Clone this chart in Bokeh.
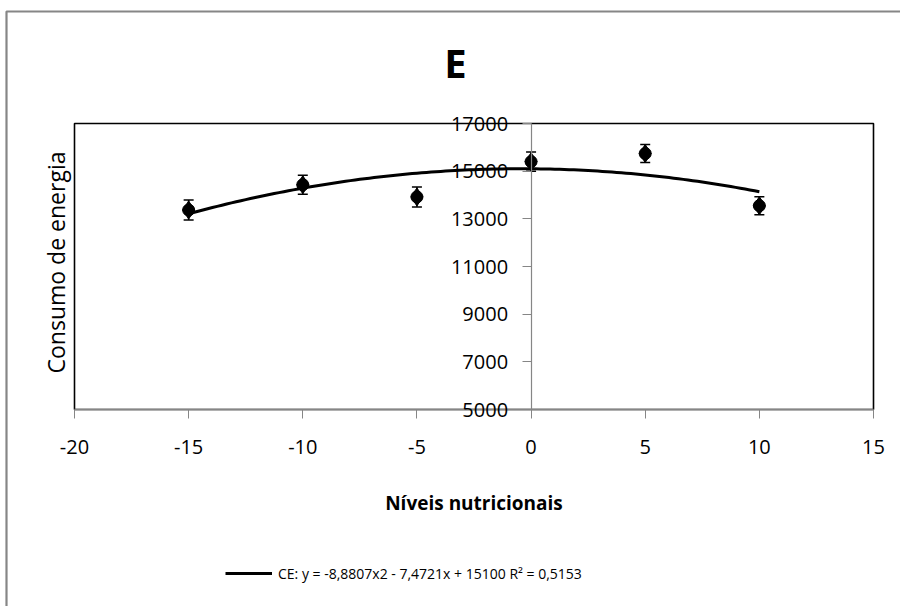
import math
import numpy as np
from bokeh.plotting import figure
from bokeh.models import (LinearAxis, FixedTicker, Range1d, Whisker, TeeHead,
                          ColumnDataSource, BoxAnnotation, Legend, LegendItem,
                          Label, PrintfTickFormatter)
from bokeh.embed import file_html
from bokeh.resources import INLINE

# ---- data ----
niveis = [-15, -10, -5, 0, 5, 10]
consumo = [13370, 14430, 13920, 15400, 15740, 13550]
erro = [420, 400, 420, 400, 380, 380]
coef = [-8.8807, -7.4721, 15100]          # CE: y = a x^2 + b x + c
x_ticks = [-20, -15, -10, -5, 0, 5, 10, 15]
y_ticks = [5000, 7000, 9000, 11000, 13000, 15000, 17000]
titulo = "E"
x_label = "Níveis nutricionais"
y_label = "Consumo de energia"
legenda = "CE: y = -8,8807x2 - 7,4721x + 15100 R² = 0,5153"

GRAY = "#868686"
FONT = "Open Sans"
W, H = 900, 606

# ---- layout: the frame covers the whole canvas;
#      the plot box (-20..15, 5000..17000) sits at these pixels ----
XMIN, XMAX, YMIN, YMAX = -20, 15, 5000, 17000
BOX_L, BOX_R, BOX_T, BOX_B = 74, 873, 123, 409
kx = (BOX_R - BOX_L) / (XMAX - XMIN)
ky = (BOX_B - BOX_T) / (YMAX - YMIN)


def px_x(px):
    return XMIN + (px - BOX_L) / kx


def px_y(py):
    return YMAX - (py - BOX_T) / ky


src = ColumnDataSource(dict(
    x=niveis, y=consumo,
    upper=[v + e for v, e in zip(consumo, erro)],
    lower=[v - e for v, e in zip(consumo, erro)],
))
xs = np.linspace(min(niveis), max(niveis), 121)
ys = np.polyval(coef, xs)

p = figure(width=W, height=H, output_backend="svg", toolbar_location=None,
           x_range=Range1d(px_x(0), px_x(W)), y_range=Range1d(px_y(H), px_y(0)),
           x_axis_location=None, y_axis_location=None,
           min_border_left=0, min_border_right=0,
           min_border_top=0, min_border_bottom=0)
p.grid.visible = False
p.outline_line_color = None
p.background_fill_color = "white"
p.border_fill_color = "white"

# outer chart-area border (only left/top edges fall inside the canvas)
p.add_layout(BoxAnnotation(left=px_x(6), right=px_x(W + 50), top=px_y(11),
                           bottom=px_y(H + 50), fill_alpha=0, line_alpha=1,
                           line_color=GRAY, line_width=2.2, level="underlay"))

# plot box
p.add_layout(BoxAnnotation(left=XMIN, right=XMAX, bottom=YMIN, top=YMAX,
                           fill_alpha=0, line_alpha=1, line_color="black",
                           line_width=1.6, level="underlay"))

# x axis (at y = 5000)
xa = LinearAxis(ticker=FixedTicker(ticks=x_ticks), fixed_location=YMIN,
                bounds=(XMIN, XMAX), formatter=PrintfTickFormatter(format="%d"))
xa.axis_line_color = GRAY
xa.axis_line_width = 1.5
xa.major_tick_line_color = GRAY
xa.major_tick_out = 9
xa.major_tick_in = 0
xa.minor_tick_line_color = None
xa.major_label_text_font = FONT
xa.major_label_text_font_size = "20px"
xa.major_label_text_color = "black"
xa.major_label_standoff = 21
xa.axis_label = x_label
xa.axis_label_text_font = FONT
xa.axis_label_text_font_size = "19px"
xa.axis_label_text_font_style = "bold"
xa.axis_label_text_color = "black"
xa.axis_label_standoff = 33
p.add_layout(xa, "below")

# y axis crossing at x = 0
ya = LinearAxis(ticker=FixedTicker(ticks=y_ticks), fixed_location=0,
                bounds=(YMIN, YMAX), formatter=PrintfTickFormatter(format="%d"))
ya.axis_line_color = GRAY
ya.axis_line_width = 1.2
ya.major_tick_line_color = GRAY
ya.major_tick_out = 9
ya.major_tick_in = 0
ya.minor_tick_line_color = None
ya.major_label_text_font = FONT
ya.major_label_text_font_size = "20px"
ya.major_label_text_color = "black"
ya.major_label_standoff = 14
p.add_layout(ya, "left")

# title and y label
p.add_layout(Label(x=px_x(455), y=px_y(62), text=titulo, text_align="center",
                   text_baseline="middle", text_font=FONT, text_font_size="40px",
                   text_font_style="bold", text_color="black"))
p.add_layout(Label(x=px_x(55), y=px_y(262), text=y_label, angle=math.pi / 2,
                   text_align="center", text_baseline="middle", text_font=FONT,
                   text_font_size="23px", text_color="black"))

# trend line
trend = p.line(xs, ys, line_color="black", line_width=3)

# error bars and markers
p.add_layout(Whisker(source=src, base="x", upper="upper", lower="lower",
                     dimension="height", line_color="black", line_width=1.5,
                     upper_head=TeeHead(size=10, line_color="black", line_width=1.5),
                     lower_head=TeeHead(size=10, line_color="black", line_width=1.5)))
p.scatter("x", "y", source=src, marker="circle", size=12, color="black")
p.scatter("x", "y", source=src, marker="diamond", size=18, color="black")

# legend
leg = Legend(items=[LegendItem(label=legenda, renderers=[trend])],
             location=(225, H - 583), orientation="horizontal",
             glyph_width=47, glyph_height=20, label_standoff=6,
             label_text_font=FONT, label_text_font_size="14px",
             label_text_color="black",
             padding=0, margin=0, spacing=0,
             border_line_color=None, background_fill_alpha=0)
p.add_layout(leg, "center")

open("out.html", "w").write(file_html(p, INLINE))
